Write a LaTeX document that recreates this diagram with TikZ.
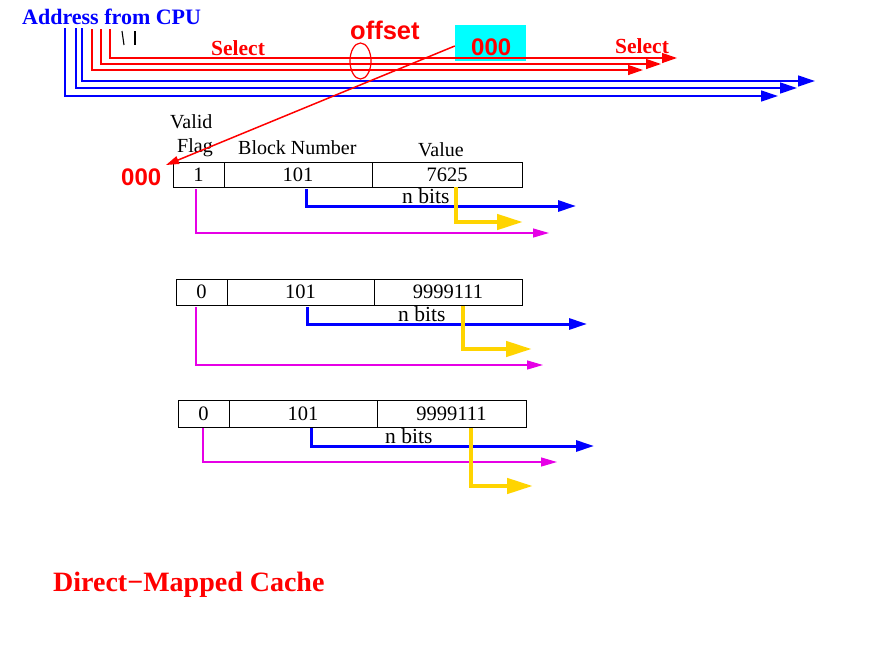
\documentclass[tikz,border=0pt]{standalone}
\usepackage{fontspec}
\setmainfont{Liberation Serif}
\newfontfamily\hvfont{Liberation Sans}
\usetikzlibrary{arrows.meta}
\definecolor{cyanbox}{RGB}{0,255,255}
\definecolor{goldw}{RGB}{255,212,0}
\definecolor{magw}{RGB}{230,0,230}
\begin{document}
\begin{tikzpicture}[x=1pt,y=-1pt,
  txt/.style={anchor=base west,inner sep=0},
  cell/.style={draw,line width=0.9pt,inner sep=0,font=\fontsize{20.5}{22}\selectfont},
  lbl/.style={txt,font=\fontsize{20}{22}\selectfont},
  nb/.style={txt,font=\fontsize{21.5}{23}\selectfont},
  redw/.style={red,line width=1.3pt},
  bluew/.style={blue,line width=1.3pt},
  redtip/.style={-{Triangle[length=15pt,width=10pt]}},
  bluetip/.style={-{Triangle[length=17pt,width=11pt]}},
  bluethick/.style={blue,line width=3pt,-{Triangle[length=18pt,width=11pt]}},
  goldthick/.style={goldw,line width=4.5pt,-{Triangle[length=26pt,width=15pt]}},
  magthin/.style={magw,line width=1.2pt,-{Triangle[length=16pt,width=9pt]}},
  bigsans/.style={txt,red,font=\hvfont\bfseries\fontsize{24}{26}\selectfont}
]
\useasboundingbox (0,0) rectangle (895,656);

% ---- address from CPU ----
\node[txt,blue,font=\bfseries\fontsize{22}{24}\selectfont] (addr) at (22,24) {Address from CPU};
\node[txt,red,font=\bfseries\fontsize{21.5}{23}\selectfont] (sel1) at (211,55) {Select};
\node[txt,red,font=\bfseries\fontsize{21.5}{23}\selectfont] (sel2) at (615,53) {Select};
\node[bigsans,font=\hvfont\bfseries\fontsize{25.5}{27}\selectfont] (offs) at (350,39) {offset};

% cyan box
\node[fill=cyanbox,minimum width=71,minimum height=36,inner sep=0] (box) at (490.5,43) {};
\node[bigsans] (zero1) at (471,55) {000};

% end coordinates for address wires
\coordinate (r1e) at (677,58);
\coordinate (r2e) at (661,64);
\coordinate (r3e) at (643,70);
\coordinate (b1e) at (815,81);
\coordinate (b2e) at (797,88);
\coordinate (b3e) at (778,96);

\draw[redw,redtip] (110,29) |- (r1e);
\draw[redw,redtip] (101,29) |- (r2e);
\draw[redw,redtip] (92,29) |- (r3e);
\draw[bluew,bluetip] (82,28) |- (b1e);
\draw[bluew,bluetip] (76,28) |- (b2e);
\draw[bluew,bluetip] (65,28) |- (b3e);
\draw[line width=1.1pt] (122,31) -- (124,45);
\draw[line width=1.1pt] (135,31) -- (135,45);

% offset ellipse
\draw[red,line width=1.2pt] (360.5,61) ellipse [x radius=10.5, y radius=18];

% ---- cache rows ----
\node[lbl] (valid) at (170,128) {Valid};
\node[lbl] (flag) at (177,152) {Flag};
\node[lbl] (blkn) at (238,154) {Block Number};
\node[lbl] (valu) at (418,156) {Value};
\node[bigsans] (zero2) at (121,185) {000};

% row 1
\node[cell,minimum width=51,minimum height=25] (f1) at (198.5,174.5) {1};
\node[cell,minimum width=148,minimum height=25] (k1) at (298,174.5) {101};
\node[cell,minimum width=150,minimum height=25] (v1) at (447,174.5) {7625};
% row 2
\node[cell,minimum width=51,minimum height=26] (f2) at (201.5,292) {0};
\node[cell,minimum width=147,minimum height=26] (k2) at (300.5,292) {101};
\node[cell,minimum width=148,minimum height=26] (v2) at (448,292) {9999111};
% row 3
\node[cell,minimum width=51,minimum height=27] (f3) at (203.5,413.5) {0};
\node[cell,minimum width=148,minimum height=27] (k3) at (303,413.5) {101};
\node[cell,minimum width=149,minimum height=27] (v3) at (451.5,413.5) {9999111};

\node[nb] (nb1) at (402,203) {n bits};
\node[nb] (nb2) at (398,321) {n bits};
\node[nb] (nb3) at (385,443) {n bits};

% offset -> line arrow
\draw[red,line width=1.5pt,-{Triangle[length=13pt,width=8pt]}] (box.west) ++(0,3) -- (166,165);

% connectors row 1
\coordinate (e1b) at (576,206);
\coordinate (e1g) at (523,222);
\coordinate (e1m) at (549,233);
\draw[magthin,shorten <=2pt] (f1.south -| 196,0) |- (e1m);
\draw[bluethick,shorten <=2pt] (k1.south -| 306,0) |- (e1b);
\draw[goldthick] (v1.south -| 456,0) |- (e1g);

% connectors row 2
\coordinate (e2b) at (587,324);
\coordinate (e2g) at (532,349);
\coordinate (e2m) at (543,365);
\draw[magthin,shorten <=2pt] (f2.south -| 196,0) |- (e2m);
\draw[bluethick,shorten <=2pt] (k2.south -| 307,0) |- (e2b);
\draw[goldthick,shorten <=1pt] (v2.south -| 463,0) |- (e2g);

% connectors row 3
\coordinate (e3b) at (594,446);
\coordinate (e3g) at (533,486);
\coordinate (e3m) at (557,462);
\draw[magthin,shorten <=1pt] (f3.south -| 203,0) |- (e3m);
\draw[bluethick,shorten <=1pt] (k3.south -| 311,0) |- (e3b);
\draw[goldthick,shorten <=1pt] (v3.south -| 471,0) |- (e3g);

% title
\node[txt,red,font=\bfseries\fontsize{28}{30}\selectfont] (title) at (53,591) {Direct−Mapped Cache};
\end{tikzpicture}
\end{document}
